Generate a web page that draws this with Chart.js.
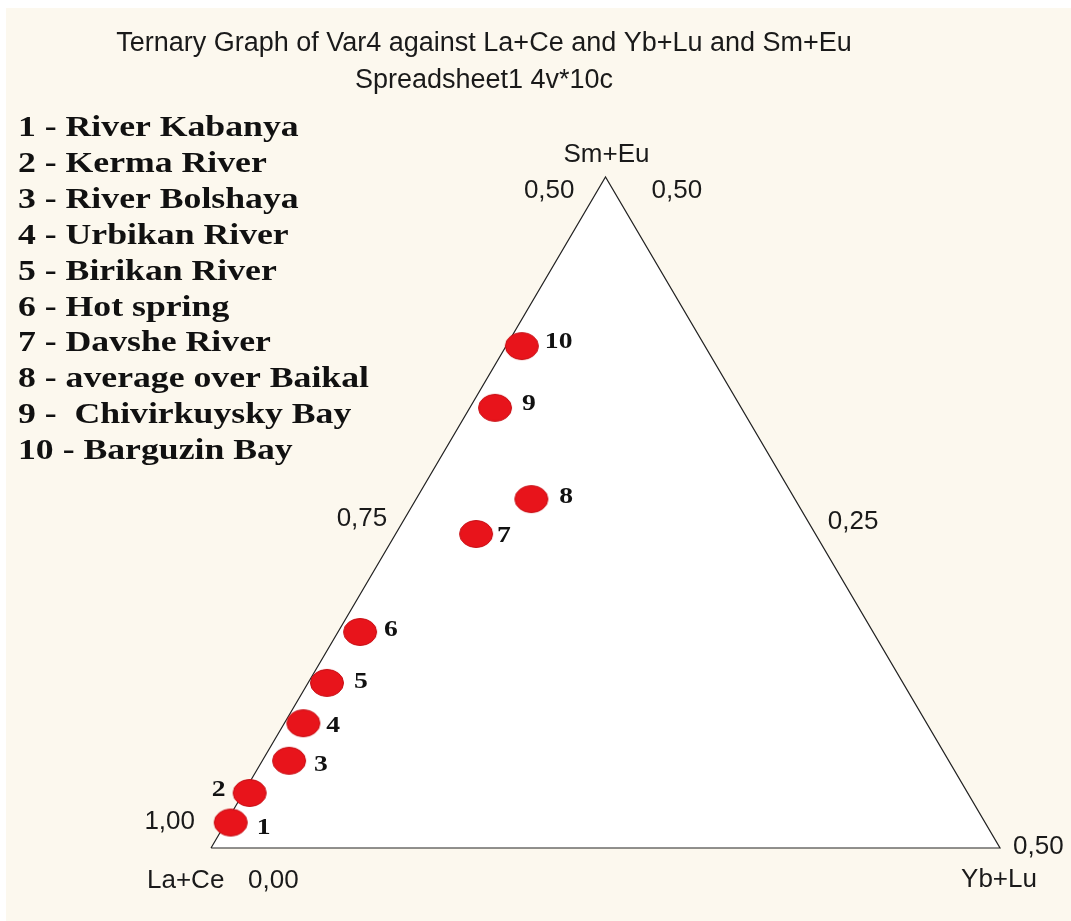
<!DOCTYPE html>
<html>
<head>
<meta charset="utf-8">
<script src="https://cdn.jsdelivr.net/npm/chart.js@4.4.1/dist/chart.umd.min.js"></script>
<style>
  html, body { margin: 0; padding: 0; background: #fff; }
  #wrap { width: 1071px; height: 921px; }
</style>
</head>
<body>
<div id="wrap"><canvas id="ternary" width="1071" height="921"></canvas></div>
<script>
// sample composition (fractions of La+Ce, Yb+Lu, Sm+Eu)
const sampleIds = ['1', '2', '3', '4', '5', '6', '7', '8', '9', '10'];
const sampleNames = [
  'River Kabanya', 'Kerma River', 'River Bolshaya', 'Urbikan River', 'Birikan River',
  'Hot spring', 'Davshe River', 'average over Baikal', ' Chivirkuysky Bay', 'Barguzin Bay'
];
const laCe = [0.978, 0.955, 0.918, 0.895, 0.865, 0.825, 0.715, 0.667, 0.656, 0.616];
const ybLu = [0.003, 0.004, 0.017, 0.012, 0.012, 0.014, 0.051, 0.073, 0.016, 0.010];
const smEu = [0.019, 0.041, 0.065, 0.093, 0.123, 0.161, 0.234, 0.260, 0.328, 0.374];

// corners of the plotted part of the diagram: La+Ce 1..0.5
const frameLa = [1.0, 0.5, 0.5, 1.0];
const frameYb = [0.0, 0.5, 0.0, 0.0];
const frameSm = [0.0, 0.0, 0.5, 0.0];

// tick labels along the edges
const tickLabels = ['1,00', '0,75', '0,50', '0,50', '0,25', '0,50', '0,00'];
const tickLa = [1.0, 0.75, 0.5, 0.5, 0.5, 0.5, 1.0];
const tickYb = [0.0, 0.0, 0.0, 0.0, 0.25, 0.5, 0.0];
const tickSm = [0.0, 0.25, 0.5, 0.5, 0.25, 0.0, 0.0];

const SQ3 = Math.sqrt(3) / 2;

// ternary -> cartesian (La+Ce corner at origin, Yb+Lu along x)
function toXY(la, yb, sm) {
  const s = la + yb + sm;
  yb /= s; sm /= s;
  return { x: yb + sm / 2, y: sm * SQ3 };
}

const points = laCe.map((v, i) => toXY(v, ybLu[i], smEu[i]));
const frame = frameLa.map((v, i) => toXY(v, frameYb[i], frameSm[i]));

// red ellipse marker
function makeMarker() {
  const c = document.createElement('canvas');
  c.width = 36; c.height = 30;
  const g = c.getContext('2d');
  g.beginPath();
  g.ellipse(18, 15, 16.5, 13.5, 0, 0, Math.PI * 2);
  g.fillStyle = '#e8141b';
  g.fill();
  g.lineWidth = 1;
  g.strokeStyle = '#c70f15';
  g.stroke();
  return c;
}

// text with optional horizontal stretch
function drawText(ctx, text, x, y, font, align, sx, color) {
  ctx.save();
  ctx.font = font;
  ctx.fillStyle = color || '#1a1a1a';
  ctx.textBaseline = 'middle';
  ctx.textAlign = align;
  ctx.translate(x, y);
  ctx.scale(sx || 1, 1);
  ctx.fillText(text, 0, 0);
  ctx.restore();
}

const background = {
  id: 'background',
  beforeDraw(chart) {
    const { ctx, width, height } = chart;
    ctx.save();
    ctx.fillStyle = '#ffffff';
    ctx.fillRect(0, 0, width, height);
    ctx.fillStyle = '#fcf8ee';
    ctx.fillRect(6, 8, width - 6, height - 8);
    ctx.restore();
  }
};

// point numbers, edge ticks, corner names, legend and titles
const labelDx = [26, -24, 25, 23, 27, 24, 21, 28, 27, 23];
const labelDy = [5, -3, 4, 3, -1, -2, 2, -2, -4, -4];
const tickDx = [-16, -21, -31, 46, 25, 13, 37];
const tickDy = [-26, 6, 14, 14, 9, -1, 33];
const tickAlign = ['right', 'right', 'right', 'left', 'left', 'left', 'left'];

const annotations = {
  id: 'annotations',
  afterDatasetsDraw(chart) {
    const { ctx, scales } = chart;
    const xs = scales.x, ys = scales.y;
    const px = p => ({ x: xs.getPixelForValue(p.x), y: ys.getPixelForValue(p.y) });

    // sample numbers next to markers
    const meta = chart.getDatasetMeta(1);
    meta.data.forEach((el, i) => {
      const align = labelDx[i] < 0 ? 'right' : 'left';
      drawText(ctx, sampleIds[i], el.x + labelDx[i], el.y + labelDy[i],
        'bold 24px "Liberation Serif", "Times New Roman", serif', align, 1.15, '#111');
    });

    // edge ticks
    const tickFont = '26px "Liberation Sans", Arial, sans-serif';
    tickLabels.forEach((t, i) => {
      const p = px(toXY(tickLa[i], tickYb[i], tickSm[i]));
      drawText(ctx, t, p.x + tickDx[i], p.y + tickDy[i], tickFont, tickAlign[i]);
    });

    // corner names
    const cLa = px(toXY(1, 0, 0));
    const cYb = px(toXY(0.5, 0.5, 0));
    const cSm = px(toXY(0.5, 0, 0.5));
    drawText(ctx, 'La+Ce', cLa.x - 64, cLa.y + 33, tickFont, 'left');
    drawText(ctx, 'Yb+Lu', cYb.x - 1, cYb.y + 32, tickFont, 'center');
    drawText(ctx, 'Sm+Eu', cSm.x + 1, cSm.y - 22, tickFont, 'center');

    // legend list
    sampleNames.forEach((name, i) => {
      ctx.save();
      ctx.font = 'bold 30px "Liberation Serif", "Times New Roman", serif';
      ctx.fillStyle = '#111';
      ctx.textBaseline = 'alphabetic';
      ctx.textAlign = 'left';
      ctx.translate(18, 136 + i * 35.9);
      ctx.scale(1.19, 1);
      ctx.fillText(sampleIds[i] + ' - ' + name, 0, 0);
      ctx.restore();
    });

    // titles
    drawText(ctx, 'Ternary Graph of Var4 against La+Ce and Yb+Lu and Sm+Eu', 484, 44,
      '27px "Liberation Sans", Arial, sans-serif', 'center');
    drawText(ctx, 'Spreadsheet1 4v*10c', 484, 81,
      '27px "Liberation Sans", Arial, sans-serif', 'center');
  }
};

new Chart(document.getElementById('ternary'), {
  type: 'scatter',
  data: {
    datasets: [
      {
        type: 'line',
        data: frame,
        borderColor: '#222',
        borderWidth: 1.2,
        backgroundColor: '#ffffff',
        fill: 'shape',
        tension: 0,
        pointRadius: 0,
        clip: false,
        order: 2
      },
      {
        data: points,
        pointStyle: makeMarker(),
        pointRadius: 16,
        clip: false,
        order: 1
      }
    ]
  },
  options: {
    responsive: false,
    animation: false,
    events: [],
    layout: {
      padding: { left: 211, right: 71, top: 177, bottom: 73 }
    },
    plugins: {
      legend: { display: false },
      tooltip: { enabled: false }
    },
    scales: {
      x: { type: 'linear', min: 0, max: 0.5, display: false },
      y: { type: 'linear', min: 0, max: SQ3 / 2, display: false }
    }
  },
  plugins: [background, annotations]
});
</script>
</body>
</html>
